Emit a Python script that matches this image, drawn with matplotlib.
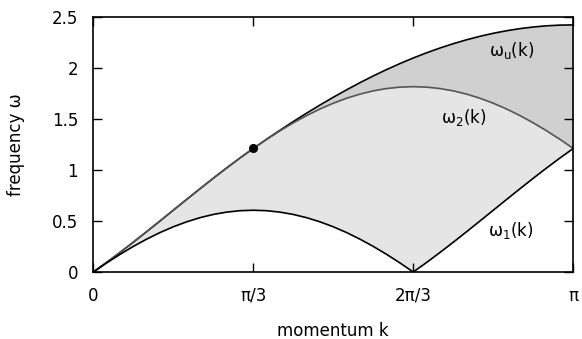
import numpy as np
import matplotlib
matplotlib.use("Agg")
import matplotlib.pyplot as plt

plt.rcParams['font.family'] = ['DejaVu Sans']
plt.rcParams['mathtext.fontset'] = 'dejavusans'

# momentum grid in steps of pi/36
k_steps = list(range(37))

# upper boundary omega_u(k)
omega_u = [0.0, 0.0936, 0.1912, 0.2918, 0.3949, 0.4995, 0.605, 0.7105, 0.8151,
           0.9182, 1.0188, 1.1164, 1.21, 1.3003, 1.3881, 1.4732, 1.5556, 1.6349,
           1.7112, 1.7842, 1.8538, 1.9199, 1.9823, 2.0410, 2.0958, 2.1466, 2.1933,
           2.2358, 2.2740, 2.3080, 2.3376, 2.3626, 2.3832, 2.3993, 2.4108, 2.4177, 2.42]
# inner boundary omega_2(k)
omega_2 = [0.0, 0.0936, 0.1912, 0.2918, 0.3949, 0.4995, 0.605, 0.7105, 0.8151,
           0.9182, 1.0188, 1.1164, 1.21, 1.2990, 1.3828, 1.4606, 1.5319, 1.5962,
           1.6529, 1.7016, 1.7420, 1.7738, 1.7966, 1.8104, 1.815, 1.8104, 1.7966,
           1.7738, 1.7420, 1.7016, 1.6529, 1.5962, 1.5319, 1.4606, 1.3828, 1.2990, 1.21]
# lower boundary omega_1(k)
omega_1 = [0.0, 0.0890, 0.1728, 0.2506, 0.3219, 0.3862, 0.4429, 0.4916, 0.5320,
           0.5638, 0.5866, 0.6004, 0.605, 0.6004, 0.5866, 0.5638, 0.5320, 0.4916,
           0.4429, 0.3862, 0.3219, 0.2506, 0.1728, 0.0890, 0.0, 0.0936, 0.1912,
           0.2918, 0.3949, 0.4995, 0.605, 0.7105, 0.8151, 0.9182, 1.0188, 1.1164, 1.21]

dot_k = np.pi / 3
dot_w = 1.21

xtick_vals = [0, np.pi / 3, 2 * np.pi / 3, np.pi]
xtick_labels = ['0', 'π/3', '2π/3', 'π']
ytick_vals = [0, 0.5, 1, 1.5, 2, 2.5]
ytick_labels = ['0', '0.5', '1', '1.5', '2', '2.5']

k = np.array(k_steps) * np.pi / 36

fig = plt.figure(figsize=(5.82, 3.39), dpi=100)
ax = fig.add_axes([0.1603, 0.1976, 0.985 - 0.1603, 0.9507 - 0.1976])

ax.fill_between(k, omega_1, omega_2, color='#e5e5e5', lw=0)
ax.fill_between(k, omega_2, omega_u, color='#d0d0d0', lw=0)
ax.plot(k, omega_u, color='black', lw=1.2)
ax.plot(k, omega_2, color='#555555', lw=1.2)
ax.plot(k, omega_1, color='black', lw=1.2)
ax.plot([dot_k], [dot_w], 'o', color='black', ms=5.5)

ax.set_xlim(0, np.pi)
ax.set_ylim(0, 2.5)
ax.set_xticks(xtick_vals)
ax.set_xticklabels(xtick_labels)
ax.set_yticks(ytick_vals)
ax.set_yticklabels(ytick_labels)
ax.tick_params(direction='in', length=6.5, width=1.0, top=True, right=True,
               labelsize=12, colors='black')
ax.tick_params(axis='x', pad=10.5)
ax.tick_params(axis='y', pad=11)
for s in ax.spines.values():
    s.set_linewidth(1.2)

ax.set_xlabel('momentum k', fontsize=12)
ax.set_ylabel('frequency ω', fontsize=12)
ax.xaxis.set_label_coords(0.5, -0.196)
ax.yaxis.set_label_coords(-0.142, 0.5)

ax.text(2.74, 2.17, 'ω$_{\\mathrm{u}}$(k)', fontsize=12, ha='center', va='center')
ax.text(2.426, 1.51, 'ω$_{\\mathrm{2}}$(k)', fontsize=12, ha='center', va='center')
ax.text(2.734, 0.41, 'ω$_{\\mathrm{1}}$(k)', fontsize=12, ha='center', va='center')

fig.savefig('out.png', dpi=100)
